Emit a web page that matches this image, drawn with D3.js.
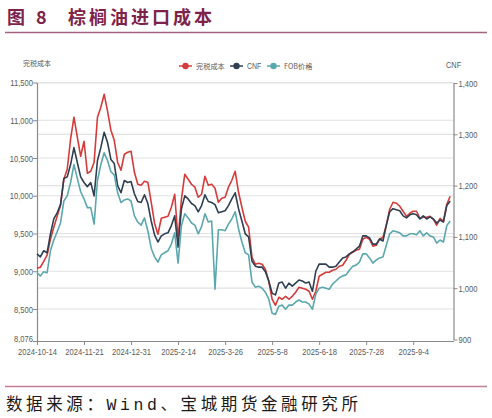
<!DOCTYPE html>
<html><head><meta charset="utf-8">
<script src="https://cdn.jsdelivr.net/npm/d3@7"></script>
<style>
body{margin:0;background:#fff;}
svg{display:block;}
</style></head><body>
<svg id="c" width="492" height="418"></svg>
<script>
// ---- data ----
const xTickLabels = ["2024-10-14","2024-11-21","2024-12-31","2025-2-14","2025-3-26","2025-5-8","2025-6-18","2025-7-28","2025-9-4"];
const xTickIndex = [0,14,28,42,56,70,84,98,112];
const seriesNames = ["完税成本","CNF","FOB价格"];
const leftTicks = [8076,8500,9000,9500,10000,10500,11000,11500];
const rightTicks = [900,1000,1100,1200,1300,1400];

const dutyCost = [9040,9053,9132,9212,9424,9583,9728,9874,10219,10351,
10749,11040,10775,10523,10722,10298,10325,10444,11040,11173,
11345,11120,10868,10735,10444,10338,10550,10576,10590,10311,
10152,10139,10192,10179,9914,9636,9490,9702,9715,9728,
9848,10020,9424,9954,10285,10219,10152,10113,9980,10020,
10258,10139,10152,10099,9914,9967,9980,10113,10205,10325,
10046,9848,9662,9583,9185,9092,9105,9092,9026,8867,
8629,8549,8655,8629,8668,8629,8668,8721,8788,8775,
8761,8735,8629,8735,8933,8960,8986,8986,9013,9026,
9066,9079,9145,9225,9251,9278,9291,9424,9450,9424,
9331,9344,9424,9450,9609,9821,9914,9901,9861,9795,
9728,9768,9795,9795,9702,9715,9715,9728,9689,9609,
9702,9662,9887,9993];

const cnf = [1067,1061,1073,1069,1106,1135,1147,1163,1214,1217,
1241,1274,1245,1217,1206,1198,1206,1180,1249,1274,
1304,1284,1251,1243,1200,1186,1210,1206,1208,1184,
1169,1167,1182,1165,1131,1104,1090,1102,1106,1108,
1122,1141,1080,1155,1180,1174,1165,1161,1149,1161,
1182,1169,1167,1163,1147,1149,1151,1161,1174,1186,
1155,1131,1106,1100,1053,1043,1041,1041,1032,1014,
990,987,1010,1012,1000,1010,1004,1010,1016,1014,
1010,1012,994,1033,1047,1047,1047,1041,1041,1043,
1051,1059,1061,1067,1071,1076,1082,1102,1102,1098,
1086,1086,1096,1092,1123,1149,1155,1153,1151,1141,
1137,1143,1145,1143,1135,1141,1135,1139,1135,1127,
1133,1129,1161,1170];

const fob = [1030,1024,1032,1030,1073,1094,1110,1127,1170,1180,
1206,1241,1214,1188,1174,1157,1157,1125,1210,1241,
1264,1249,1227,1221,1186,1167,1172,1174,1170,1141,
1129,1123,1137,1112,1078,1061,1051,1065,1069,1073,
1086,1108,1049,1122,1145,1137,1127,1123,1106,1120,
1145,1129,1131,998,1114,1114,1112,1125,1135,1149,
1116,1090,1069,1065,1012,1002,1004,1000,992,979,
951,949,965,967,959,967,967,973,977,973,
973,969,959,988,1000,1002,1000,998,1008,1014,
1020,1024,1026,1035,1043,1045,1051,1067,1067,1059,
1049,1055,1059,1061,1084,1106,1112,1110,1108,1102,
1102,1106,1106,1104,1112,1102,1108,1102,1100,1088,
1094,1090,1122,1131];

// ---- drawing ----
const svg = d3.select("#c");
const L = 37, R = 453.5, T = 83, B = 341;
const colors = ["#d63b3b","#2e3f51","#5ba7ae"];
const latin = "'Liberation Sans',Arial,sans-serif";
const cjk = "'Noto Sans CJK SC','Liberation Sans',sans-serif";
const labelColor = "#5a5a5a";

// condense a text element horizontally (reference uses a narrow face)
function condense(sel, k){
  sel.each(function(){
    const w = this.getComputedTextLength();
    d3.select(this).attr("textLength", w*k).attr("lengthAdjust","spacingAndGlyphs");
  });
}

const x = d3.scaleLinear().domain([0,124]).range([L,R]);
const yL = d3.scaleLinear().domain([8076,11500]).range([B,82.5]);
const yR = d3.scaleLinear().domain([900,1400]).range([339.5,83]);

// title
const titleColor = "#7d2249";
svg.append("text").attr("x",7).attr("y",23.5).text("图")
  .attr("font-family",cjk).attr("font-weight",700).attr("font-size",18).attr("fill",titleColor);
svg.append("text").attr("x",36).attr("y",23.5).text("8")
  .attr("font-family",cjk).attr("font-weight",700).attr("font-size",18).attr("fill",titleColor);
svg.append("text").attr("x",68).attr("y",23.5).text("棕榈油进口成本")
  .attr("font-family",cjk).attr("font-weight",700).attr("font-size",18).attr("letter-spacing",3).attr("fill",titleColor);
svg.append("line").attr("x1",5).attr("x2",487).attr("y1",32.5).attr("y2",32.5)
  .attr("stroke","#a3637f").attr("stroke-width",1.5);

// gridlines
const grid = svg.append("g");
leftTicks.filter(d=>d!==8076).forEach(d=>{
  grid.append("line").attr("x1",L).attr("x2",R).attr("y1",yL(d)).attr("y2",yL(d))
    .attr("stroke","#e2e2e2").attr("stroke-width",1.2);
});
rightTicks.filter(d=>d!==900).forEach(d=>{
  grid.append("line").attr("x1",L).attr("x2",R).attr("y1",yR(d)).attr("y2",yR(d))
    .attr("stroke","#e2e2e2").attr("stroke-width",1.2);
});

// axes
const axL = d3.axisLeft(yL).tickValues(leftTicks).tickSize(4).tickSizeOuter(0).tickFormat(d3.format(","));
const gL = svg.append("g").attr("transform",`translate(${L},0)`).call(axL);
const axR = d3.axisRight(yR).tickValues(rightTicks).tickSize(4).tickSizeOuter(0).tickFormat(d3.format(","));
const gR = svg.append("g").attr("transform",`translate(${R},0)`).call(axR);
const axB = d3.axisBottom(x).tickValues(xTickIndex).tickSize(4).tickSizeOuter(0).tickFormat((d,i)=>xTickLabels[i]);
const gB = svg.append("g").attr("transform",`translate(0,${B})`).call(axB);
[gL,gR,gB].forEach(g=>{
  g.select(".domain").attr("stroke","#8a8a8a").attr("stroke-width",1.2);
  g.selectAll(".tick line").attr("stroke","#8a8a8a");
  g.selectAll("text").attr("font-family",latin).attr("font-size",9.5).attr("fill",labelColor);
});
gL.selectAll("text").attr("x",-4);
gL.selectAll(".tick").filter(d=>d===8076).select("text").attr("dy","0.1em");
gR.selectAll("text").attr("x",5);
gB.selectAll("text").attr("y",7.5);
[gL,gR,gB].forEach(g=>condense(g.selectAll("text"),0.8));

// axis titles
svg.append("text").attr("x",23).attr("y",66).text(seriesNames[0])
  .attr("font-family",cjk).attr("font-size",7).attr("fill",labelColor);
const cnfT = svg.append("text").attr("x",446).attr("y",67.5).text("CNF")
  .attr("font-family",latin).attr("font-size",9).attr("fill",labelColor);
condense(cnfT,0.82);

// lines
const series = [
  {vals:dutyCost, y:yL},
  {vals:cnf, y:yR},
  {vals:fob, y:yR}
];
series.forEach((s,k)=>{
  const line = d3.line().x((d,i)=>x(i)).y(d=>s.y(d));
  svg.append("path").datum(s.vals).attr("d",line)
    .attr("fill","none").attr("stroke",colors[k]).attr("stroke-width",1.6)
    .attr("stroke-linejoin","round");
});

// legend
const legendX = [179,230,267];
const legendY = 66;
seriesNames.forEach((n,k)=>{
  const g = svg.append("g").attr("transform",`translate(${legendX[k]},${legendY})`);
  g.append("line").attr("x1",0).attr("x2",13).attr("y1",0).attr("y2",0)
    .attr("stroke",colors[k]).attr("stroke-width",1.5);
  g.append("circle").attr("cx",6.5).attr("cy",0).attr("r",3.2).attr("fill",colors[k]);
  const t = g.append("text").attr("x",17).attr("y",3).text(n)
    .attr("font-family",k===1? latin : cjk).attr("font-size",k===1?8.5:7.2).attr("fill",labelColor);
  if(k===1) condense(t,0.82);
});

// footer
svg.append("line").attr("x1",5).attr("x2",487).attr("y1",386.5).attr("y2",386.5)
  .attr("stroke","#c07f99").attr("stroke-width",1.5);
svg.append("text").attr("x",6).attr("y",410).text("数据来源：Wind、宝城期货金融研究所")
  .attr("font-family","'Liberation Mono','Noto Sans CJK SC',monospace").attr("font-size",16.5)
  .attr("letter-spacing",3.6).attr("fill","#1a1a1a");
</script>
</body></html>
